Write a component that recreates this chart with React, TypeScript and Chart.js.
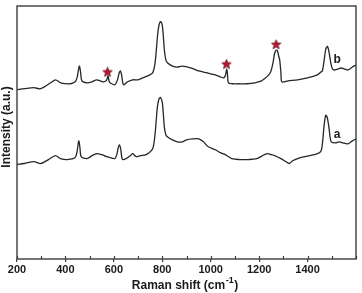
import React, { useEffect, useRef } from "react";
import { Chart, registerables } from "chart.js";

Chart.register(...registerables);

const shiftB = [200, 230, 270, 298, 339, 359, 380, 420, 440, 448, 453, 458, 463, 468, 489, 510, 529, 556, 568, 572, 576, 580, 584, 604, 615, 622, 627, 632, 636, 641, 657, 678, 700, 719, 740, 760, 770, 776, 780, 786, 793, 800, 805, 809, 815, 822, 842, 862, 882, 920, 951, 985, 1019, 1040, 1053, 1060, 1063, 1066, 1069, 1073, 1090, 1114, 1150, 1182, 1210, 1222, 1240, 1249, 1257, 1264, 1270, 1275, 1280, 1285, 1290, 1294, 1320, 1359, 1400, 1441, 1455, 1461, 1468, 1475, 1482, 1488, 1496, 1503, 1510, 1525, 1539, 1553, 1567, 1585, 1600];
const intensityB = [172, 173, 174, 173, 179, 182, 179, 178, 180, 184, 191, 196, 189, 181, 179, 180, 182, 180, 181, 183, 186, 181, 179, 177, 182, 189, 191, 187, 180, 177, 180, 182, 182, 184, 186, 189, 199, 214, 226, 237, 241, 237, 224, 211, 202, 199, 196, 195, 196, 194, 191, 189, 187, 185, 184, 186, 189, 193, 189, 179, 178, 178, 178, 179, 181, 183, 187, 191, 199, 209, 212, 212, 207, 202, 189, 180, 181, 182, 184, 187, 190, 191, 201, 213, 216, 211, 199, 193, 192, 193, 194, 193, 192, 195, 197];

const shiftA = [200, 230, 270, 298, 330, 359, 380, 408, 440, 448, 455, 460, 465, 489, 510, 529, 550, 570, 604, 612, 618, 623, 628, 634, 641, 657, 668, 678, 686, 694, 710, 733, 760, 770, 776, 780, 787, 793, 800, 805, 809, 815, 822, 842, 862, 882, 900, 923, 951, 970, 990, 1019, 1040, 1060, 1087, 1120, 1155, 1190, 1222, 1236, 1250, 1264, 1290, 1310, 1324, 1340, 1359, 1390, 1427, 1454, 1462, 1468, 1475, 1481, 1488, 1493, 1498, 1515, 1530, 1545, 1567, 1585, 1600];
const intensityA = [96, 97, 99, 97, 101, 105, 102, 101, 103, 109, 120, 113, 104, 102, 105, 107, 106, 104, 102, 106, 113, 116, 112, 102, 101, 103, 105, 107, 105, 104, 105, 106, 112, 127, 144, 155, 163, 164, 159, 145, 133, 126, 124, 121, 119, 119, 121, 122, 122, 119, 114, 111, 108, 106, 102, 101, 101, 102, 106, 107, 106, 105, 102, 99, 97, 100, 102, 104, 106, 109, 119, 135, 146, 144, 134, 124, 119, 118, 119, 118, 117, 120, 122];

const starShift = [574, 1065, 1270];
const starIntensity = [190, 198, 218];

const curveLabels = ["a", "b"];
const labelShift = [1522, 1522];
const labelIntensity = [126, 202];

const xTicks = [200, 400, 600, 800, 1000, 1200, 1400];

function makeStar(): HTMLCanvasElement {
  const c = document.createElement("canvas");
  c.width = 11;
  c.height = 11;
  const g = c.getContext("2d")!;
  const cx = 5.5, cy = 5.8, R = 5, r = 2.2;
  g.beginPath();
  for (let i = 0; i < 10; i++) {
    const ang = -Math.PI / 2 + (i * Math.PI) / 5;
    const rad = i % 2 === 0 ? R : r;
    const px = cx + rad * Math.cos(ang);
    const py = cy + rad * Math.sin(ang);
    if (i === 0) g.moveTo(px, py);
    else g.lineTo(px, py);
  }
  g.closePath();
  g.fillStyle = "#c4122f";
  g.fill();
  g.strokeStyle = "#5a1a22";
  g.lineWidth = 0.8;
  g.stroke();
  return c;
}

export default function App() {
  const ref = useRef<HTMLCanvasElement | null>(null);

  useEffect(() => {
    document.body.style.margin = "0";
    const canvas = ref.current!;
    const starImg = makeStar();

    const framePlugin = {
      id: "frame",
      afterDraw(chart: any) {
        const { ctx, chartArea: a, scales } = chart;
        const xs = scales.x;
        const ys = scales.y;
        ctx.save();
        ctx.strokeStyle = "#3a3f3a";
        ctx.lineWidth = 1.4;
        ctx.strokeRect(a.left, a.top, a.right - a.left, a.bottom - a.top);
        // inner ticks
        ctx.lineWidth = 1.2;
        for (let v = 200; v <= 1600; v += 100) {
          const px = Math.round(xs.getPixelForValue(v)) + 0.5;
          ctx.beginPath();
          ctx.moveTo(px, a.bottom);
          ctx.lineTo(px, a.bottom - 3);
          ctx.stroke();
        }
        ctx.fillStyle = "#1a1a1a";
        // curve labels
        ctx.font = "bold 12px 'Liberation Sans', Arial, sans-serif";
        ctx.textAlign = "center";
        ctx.textBaseline = "middle";
        for (let i = 0; i < curveLabels.length; i++) {
          ctx.fillText(curveLabels[i], xs.getPixelForValue(labelShift[i]), ys.getPixelForValue(labelIntensity[i]));
        }
        // x title
        const main = "Raman shift (cm";
        const sup = "-1";
        const end = ")";
        ctx.font = "bold 12px 'Liberation Sans', Arial, sans-serif";
        const wMain = ctx.measureText(main).width;
        const wEnd = ctx.measureText(end).width;
        ctx.font = "bold 9px 'Liberation Sans', Arial, sans-serif";
        const wSup = ctx.measureText(sup).width;
        const total = wMain + wSup + wEnd;
        const cx = (a.left + a.right) / 2 - 2;
        let x0 = cx - total / 2;
        const ty = 286;
        ctx.textAlign = "left";
        ctx.textBaseline = "middle";
        ctx.font = "bold 12px 'Liberation Sans', Arial, sans-serif";
        ctx.fillText(main, x0, ty);
        ctx.font = "bold 9px 'Liberation Sans', Arial, sans-serif";
        ctx.fillText(sup, x0 + wMain + 0.5, ty - 5);
        ctx.font = "bold 12px 'Liberation Sans', Arial, sans-serif";
        ctx.fillText(end, x0 + wMain + wSup + 1, ty);
        // y title
        ctx.translate(7, 127);
        ctx.rotate(-Math.PI / 2);
        ctx.textAlign = "center";
        ctx.fillText("Intensity (a.u.)", 0, 0);
        ctx.restore();
      },
    };

    const chart = new Chart(canvas, {
      type: "line",
      data: {
        datasets: [
          {
            label: "b",
            data: shiftB.map((x, i) => ({ x, y: intensityB[i] })),
            borderColor: "#232823",
            borderWidth: 1.3,
            pointRadius: 0,
            tension: 0.3,
            fill: false,
          },
          {
            label: "a",
            data: shiftA.map((x, i) => ({ x, y: intensityA[i] })),
            borderColor: "#232823",
            borderWidth: 1.3,
            pointRadius: 0,
            tension: 0.3,
            fill: false,
          },
          {
            label: "stars",
            data: starShift.map((x, i) => ({ x, y: starIntensity[i] })),
            showLine: false,
            pointStyle: starImg as any,
            pointRadius: 5,
          },
        ],
      },
      options: {
        responsive: false,
        animation: false,
        events: [],
        layout: { padding: { left: 17, top: 2, right: 3, bottom: 0 } },
        plugins: { legend: { display: false }, tooltip: { enabled: false } },
        scales: {
          x: {
            type: "linear",
            min: 200,
            max: 1600,
            afterBuildTicks: (s: any) => {
              s.ticks = xTicks.map((v) => ({ value: v }));
            },
            afterFit: (s: any) => {
              s.height = 34;
              s.paddingRight = 0;
              s.paddingLeft = 0;
            },
            ticks: {
              color: "#1a1a1a",
              font: { family: "'Liberation Sans', Arial, sans-serif", size: 11, weight: "bold" },
              padding: 1,
              maxRotation: 0,
              autoSkip: false,
              callback: (v: any) => String(v),
            },
            grid: { drawOnChartArea: false, drawTicks: true, tickLength: 3, color: "#3a3f3a", lineWidth: 1.2 },
            border: { display: false },
          },
          y: {
            display: false,
            min: 0,
            max: 257,
          },
        },
      },
      plugins: [framePlugin],
    });

    return () => chart.destroy();
  }, []);

  return (
    <div style={{ width: 362, height: 293 }}>
      <canvas ref={ref} width={362} height={293} style={{ display: "block" }} />
    </div>
  );
}
